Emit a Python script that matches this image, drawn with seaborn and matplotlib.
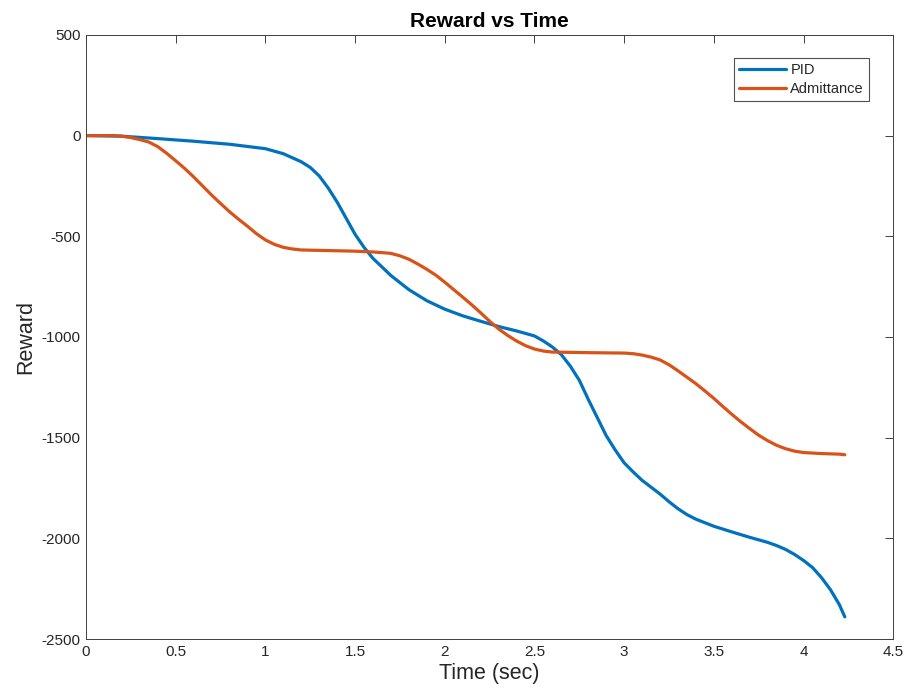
import numpy as np
import pandas as pd
import matplotlib
matplotlib.use("Agg")
import matplotlib.pyplot as plt
import seaborn as sns

pid_time = [0.0, 0.2, 0.4, 0.6, 0.8, 1.0, 1.1, 1.2, 1.25, 1.3, 1.35, 1.4, 1.45, 1.5, 1.55,
            1.6, 1.7, 1.8, 1.9, 2.0, 2.1, 2.2, 2.3, 2.4, 2.5, 2.55, 2.6, 2.65, 2.7, 2.75,
            2.8, 2.85, 2.9, 2.95, 3.0, 3.05, 3.1, 3.15, 3.2, 3.25, 3.3, 3.35, 3.4, 3.5, 3.6, 3.7,
            3.8, 3.85, 3.9, 3.95, 4.0, 4.05, 4.1, 4.15, 4.2, 4.23]
pid = [0, -3, -15, -28, -43, -65, -90, -130, -158, -200, -260, -330, -410, -490, -555,
       -610, -695, -765, -820, -862, -895, -922, -948, -970, -995, -1020, -1050, -1088, -1145, -1215,
       -1310, -1400, -1490, -1561, -1625, -1670, -1712, -1746, -1780, -1818, -1853, -1882, -1905, -1940, -1968, -1995,
       -2020, -2036, -2055, -2080, -2110, -2145, -2195, -2255, -2330, -2390]

adm_time = [0.0, 0.15, 0.2, 0.25, 0.3, 0.35, 0.4, 0.45, 0.5, 0.55, 0.6, 0.65, 0.7, 0.75, 0.8,
            0.85, 0.9, 0.95, 1.0, 1.05, 1.1, 1.15, 1.2, 1.3, 1.5, 1.6, 1.65, 1.7, 1.75, 1.8,
            1.85, 1.9, 1.95, 2.0, 2.05, 2.1, 2.15, 2.2, 2.25, 2.3, 2.35, 2.4, 2.45, 2.5, 2.55,
            2.6, 2.8, 3.0, 3.05, 3.1, 3.15, 3.2, 3.25, 3.3, 3.35, 3.4, 3.45, 3.5, 3.55, 3.6,
            3.65, 3.7, 3.75, 3.8, 3.85, 3.9, 3.95, 4.0, 4.1, 4.2, 4.23]
admittance = [0, 0, -3, -10, -20, -32, -55, -88, -125, -163, -205, -250, -295, -337, -378,
              -415, -450, -487, -518, -540, -555, -563, -568, -570, -574, -578, -581, -585, -597, -614,
              -638, -664, -693, -728, -765, -802, -840, -880, -922, -960, -992, -1020, -1043, -1060, -1070,
              -1075, -1078, -1080, -1083, -1090, -1100, -1114, -1138, -1168, -1200, -1232, -1268, -1305, -1345, -1384,
              -1421, -1455, -1488, -1515, -1538, -1555, -1567, -1574, -1579, -1582, -1585]

df = pd.DataFrame({
    "Time": pid_time + adm_time,
    "Reward": pid + admittance,
    "Controller": ["PID"] * len(pid_time) + ["Admittance"] * len(adm_time),
})

sns.set_theme(style="white")
plt.rcParams["font.family"] = ["Liberation Sans", "DejaVu Sans"]
plt.rcParams["axes.unicode_minus"] = False

fig = plt.figure(figsize=(9.05, 6.98), dpi=100)
ax = fig.add_axes([0.095, 0.0845, 0.892, 0.8655])

sns.lineplot(data=df, x="Time", y="Reward", hue="Controller",
             palette={"PID": "#0072BD", "Admittance": "#D95319"},
             linewidth=2.3, ax=ax, sort=False, estimator=None)

ax.set_xlim(0, 4.5)
ax.set_ylim(-2500, 500)
ax.set_xticks(np.arange(0, 4.51, 0.5))
ax.set_xticklabels(["0", "0.5", "1", "1.5", "2", "2.5", "3", "3.5", "4", "4.5"])
ax.set_yticks(np.arange(-2500, 501, 500))
ax.tick_params(direction="in", top=True, right=True, length=6, width=0.7,
               colors="#404040", labelsize=11, labelcolor="#262626", pad=4)
for s in ax.spines.values():
    s.set_visible(True)
    s.set_color("#404040")
    s.set_linewidth(0.7)

ax.set_xlabel("Time (sec)", fontsize=15.5, color="#262626", labelpad=3)
ax.set_ylabel("Reward", fontsize=15.5, color="#262626", labelpad=4)
ax.set_title("Reward vs Time", fontsize=15, fontweight="bold", color="black", pad=6)

leg = ax.legend(loc="upper right", bbox_to_anchor=(0.97, 0.962), fontsize=10.5, frameon=True,
                fancybox=False, edgecolor="#262626", handlelength=3.2, borderpad=0.35,
                labelspacing=0.35, handletextpad=0.3, borderaxespad=0)
leg.get_frame().set_linewidth(0.8)
for line in leg.get_lines():
    line.set_linewidth(2.3)

fig.savefig("out.png", dpi=100)
